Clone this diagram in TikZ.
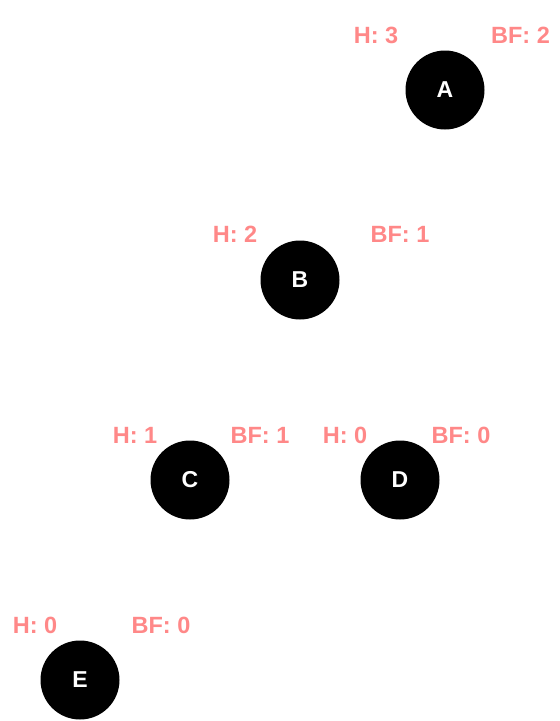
\documentclass[tikz,border=0pt]{standalone}
\usepackage{fontspec}
\setmainfont{Liberation Sans}
\definecolor{lbl}{RGB}{255,136,136}
\begin{document}
\begin{tikzpicture}[x=1pt,y=-1pt,
  treenode/.style={circle,fill=black,minimum size=79pt,inner sep=0pt,text=white,font=\fontsize{23}{27}\selectfont\bfseries},
  info/.style={anchor=base,inner sep=0pt,text=lbl,font=\fontsize{23.5}{27}\selectfont\bfseries}]
\useasboundingbox (0,0) rectangle (560,721);
\node[treenode] (A) at (445,90) {A};
\node[treenode] (B) at (300,280) {B};
\node[treenode] (C) at (190,480) {C};
\node[treenode] (D) at (400,480) {D};
\node[treenode] (E) at (80,680) {E};
\node[info] (hA) at (376,43) {H: 3};
\node[info] (bA) at (520.5,43) {BF: 2};
\node[info] (hB) at (235,242) {H: 2};
\node[info] (bB) at (400,242) {BF: 1};
\node[info] (hC) at (135,443) {H: 1};
\node[info] (bC) at (260,443) {BF: 1};
\node[info] (hD) at (345,443) {H: 0};
\node[info] (bD) at (461,443) {BF: 0};
\node[info] (hE) at (35,633) {H: 0};
\node[info] (bE) at (161,633) {BF: 0};
\end{tikzpicture}
\end{document}
